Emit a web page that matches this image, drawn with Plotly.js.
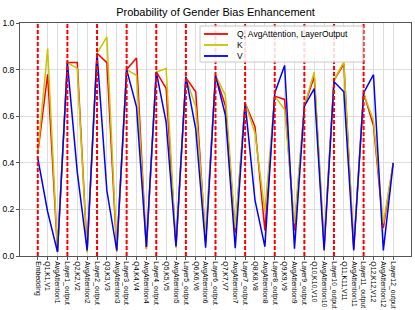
<!DOCTYPE html>
<html>
<head>
<meta charset="utf-8">
<script src="https://cdn.plot.ly/plotly-3.0.1.min.js"></script>
<style>html,body{margin:0;padding:0;background:#fff;}#chart{width:415px;height:310px;}</style>
</head>
<body>
<div id="chart"></div>
<script>
var categories = ['Embedding',
 'Q1,K1,V1','AvgAttention1','Layer1_output',
 'Q2,K2,V2','AvgAttention2','Layer2_output',
 'Q3,K3,V3','AvgAttention3','Layer3_output',
 'Q4,K4,V4','AvgAttention4','Layer4_output',
 'Q5,K5,V5','AvgAttention5','Layer5_output',
 'Q6,K6,V6','AvgAttention6','Layer6_output',
 'Q7,K7,V7','AvgAttention7','Layer7_output',
 'Q8,K8,V8','AvgAttention8','Layer8_output',
 'Q9,K9,V9','AvgAttention9','Layer9_output',
 'Q10,K10,V10','AvgAttention10','Layer10_output',
 'Q11,K11,V11','AvgAttention11','Layer11_output',
 'Q12,K12,V12','AvgAttention12','Layer12_output'];

var qSeries = [0.44,
 0.78,0.02,0.83,
 0.83,0.02,0.87,
 0.83,0.02,0.80,
 0.85,0.03,0.79,
 0.72,0.04,0.765,
 0.705,0.06,0.775,
 0.645,0.10,0.657,
 0.555,0.11,0.686,
 0.672,0.11,0.643,
 0.77,0.04,0.754,
 0.825,0.03,0.70,
 0.56,0.12,0.40];

var kSeries = [0.44,
 0.89,0.022,0.83,
 0.805,0.015,0.87,
 0.94,0.02,0.80,
 0.775,0.03,0.79,
 0.805,0.034,0.765,
 0.64,0.09,0.775,
 0.69,0.12,0.657,
 0.528,0.19,0.686,
 0.628,0.14,0.643,
 0.79,0.05,0.754,
 0.833,0.04,0.70,
 0.58,0.14,0.40];

var vSeries = [0.42,
 0.19,0.017,0.83,
 0.36,0.024,0.87,
 0.28,0.024,0.80,
 0.64,0.039,0.79,
 0.575,0.041,0.77,
 0.545,0.036,0.775,
 0.605,0.034,0.657,
 0.24,0.04,0.70,
 0.818,0.031,0.643,
 0.718,0.024,0.748,
 0.705,0.024,0.70,
 0.778,0.024,0.40];

var seriesNames = ['Q, AvgAttention, LayerOutput','K','V'];
var seriesColors = ['#ff0000','#c8c400','#0000ff'];
var boundaryLabels = ['Embedding','Layer1_output','Layer2_output','Layer3_output','Layer4_output',
 'Layer5_output','Layer6_output','Layer7_output','Layer8_output','Layer9_output','Layer10_output','Layer11_output'];

var font = 'Liberation Sans, Arial, sans-serif';
var allSeries = [qSeries,kSeries,vSeries];
var traces = allSeries.map(function(s,i){
  return {x: categories, y: s, type:'scatter', mode:'lines', name: seriesNames[i],
    line:{color: seriesColors[i], width:1.5}, showlegend:false};
});

var shapes = boundaryLabels.map(function(lbl){
  var idx = categories.indexOf(lbl);
  return {type:'line', xref:'x', yref:'paper', x0: idx, x1: idx, y0:0, y1:1,
    line:{color:'#ff0000', width:2, dash:'4px,2px'}, layer:'above'};
});

// legend box (drawn as paper-space shapes/annotations)
var lgX0 = 0.4604, lgX1 = 0.877, lgY0 = 0.8326, lgY1 = 0.987;
var rowY = [0.9528, 0.9056, 0.8584];
shapes.push({type:'rect', xref:'paper', yref:'paper', x0:lgX0, x1:lgX1, y0:lgY0, y1:lgY1,
  fillcolor:'rgba(255,255,255,0.85)', line:{color:'#c8c8c8', width:1}, layer:'above'});
var annotations = [];
seriesNames.forEach(function(n,i){
  shapes.push({type:'line', xref:'paper', yref:'paper', x0:0.4706, x1:0.532, y0:rowY[i], y1:rowY[i],
    line:{color:seriesColors[i], width:1.8}, layer:'above'});
  annotations.push({xref:'paper', yref:'paper', x:0.5499, y:rowY[i], xanchor:'left', yanchor:'middle',
    text:n, showarrow:false, font:{size:8.5, family:font, color:'#000'}});
});

var layout = {
  width:415, height:310,
  margin:{l:20, r:4, t:23, b:54},
  paper_bgcolor:'#ffffff', plot_bgcolor:'#ffffff',
  font:{family:font, color:'#000'},
  title:{text:'Probability of Gender Bias Enhancement', font:{size:11, family:font, color:'#000'},
    xref:'paper', x:0.5, xanchor:'center', yref:'container', y:0.961, yanchor:'middle'},
  xaxis:{type:'category', categoryorder:'array', categoryarray: categories,
    range:[-1.8, 37.8], tickangle:90, tickfont:{size:6.8, family:font, color:'#000'},
    showgrid:true, gridcolor:'#dddddd', gridwidth:1,
    showline:true, linecolor:'#555', linewidth:1, mirror:true,
    ticks:'outside', ticklen:3, tickcolor:'#555', zeroline:false},
  yaxis:{range:[0,1], dtick:0.2, tick0:0, tickformat:'.1f', tickfont:{size:8.5, family:font, color:'#000'},
    showgrid:true, gridcolor:'#dddddd', gridwidth:1,
    showline:true, linecolor:'#555', linewidth:1, mirror:true,
    ticks:'outside', ticklen:3, tickcolor:'#555', zeroline:false},
  showlegend:false,
  shapes: shapes,
  annotations: annotations
};

Plotly.newPlot('chart', traces, layout, {staticPlot:true, displayModeBar:false});
</script>
</body>
</html>
